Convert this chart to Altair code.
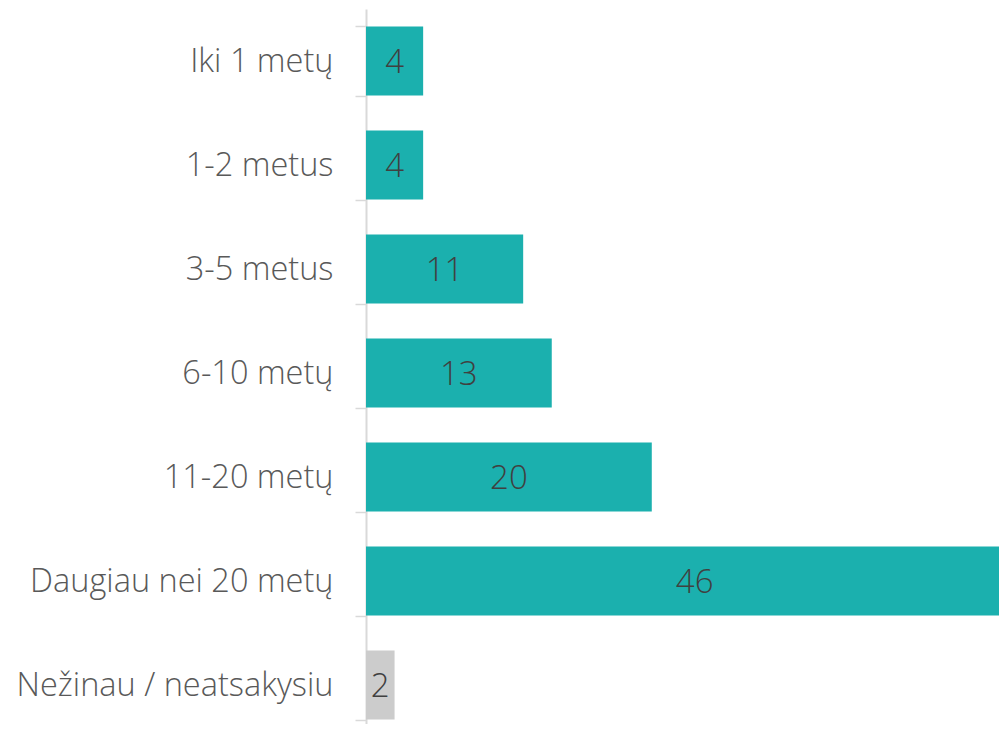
import altair as alt
import pandas as pd

categories = ["Iki 1 metų", "1-2 metus", "3-5 metus", "6-10 metų", "11-20 metų",
              "Daugiau nei 20 metų", "Nežinau / neatsakysiu"]
values = [4, 4, 11, 13, 20, 46, 2]
colors = ["#1BB0AE", "#1BB0AE", "#1BB0AE", "#1BB0AE", "#1BB0AE", "#1BB0AE", "#CCCCCC"]

df = pd.DataFrame({"cat": categories, "value": values, "color": colors})

FONT = "Open Sans"

y_enc = alt.Y("cat:N", sort=categories,
              scale=alt.Scale(paddingInner=0.335, paddingOuter=0.1675),
              axis=alt.Axis(title=None, tickBand="extent", tickSize=11, tickWidth=1.5,
                            tickColor="#D9D9D9", domainColor="#D9D9D9", domainWidth=2,
                            labelFont=FONT, labelFontSize=32.5, labelFontWeight=300,
                            labelColor="#595959", labelPadding=22, labelLimit=400))

# visible plot shows 0..44.3; the 46 bar runs past the right edge as in the reference
x_scale = alt.Scale(domain=[0, 44.3], nice=False, zero=True)

bars = alt.Chart(df).mark_bar().encode(
    y=y_enc,
    x=alt.X("value:Q", scale=x_scale, axis=None),
    color=alt.Color("color:N", scale=None),
)

text = alt.Chart(df).transform_calculate(mid="datum.value / 2").mark_text(
    font=FONT, fontSize=33, fontWeight=300, color="#404040", baseline="middle", dy=2
).encode(
    y=alt.Y("cat:N", sort=categories),
    x=alt.X("mid:Q", scale=x_scale),
    text=alt.Text("value:Q", format=".0f"),
)

chart = (bars + text).properties(
    width=633, height=728,
    autosize=alt.AutoSizeParams(type="none"),
    padding={"left": 358, "top": 1, "right": 0, "bottom": -13},
).configure_view(stroke=None)

chart.save("out.html", embed_options={"renderer": "svg", "actions": False})
